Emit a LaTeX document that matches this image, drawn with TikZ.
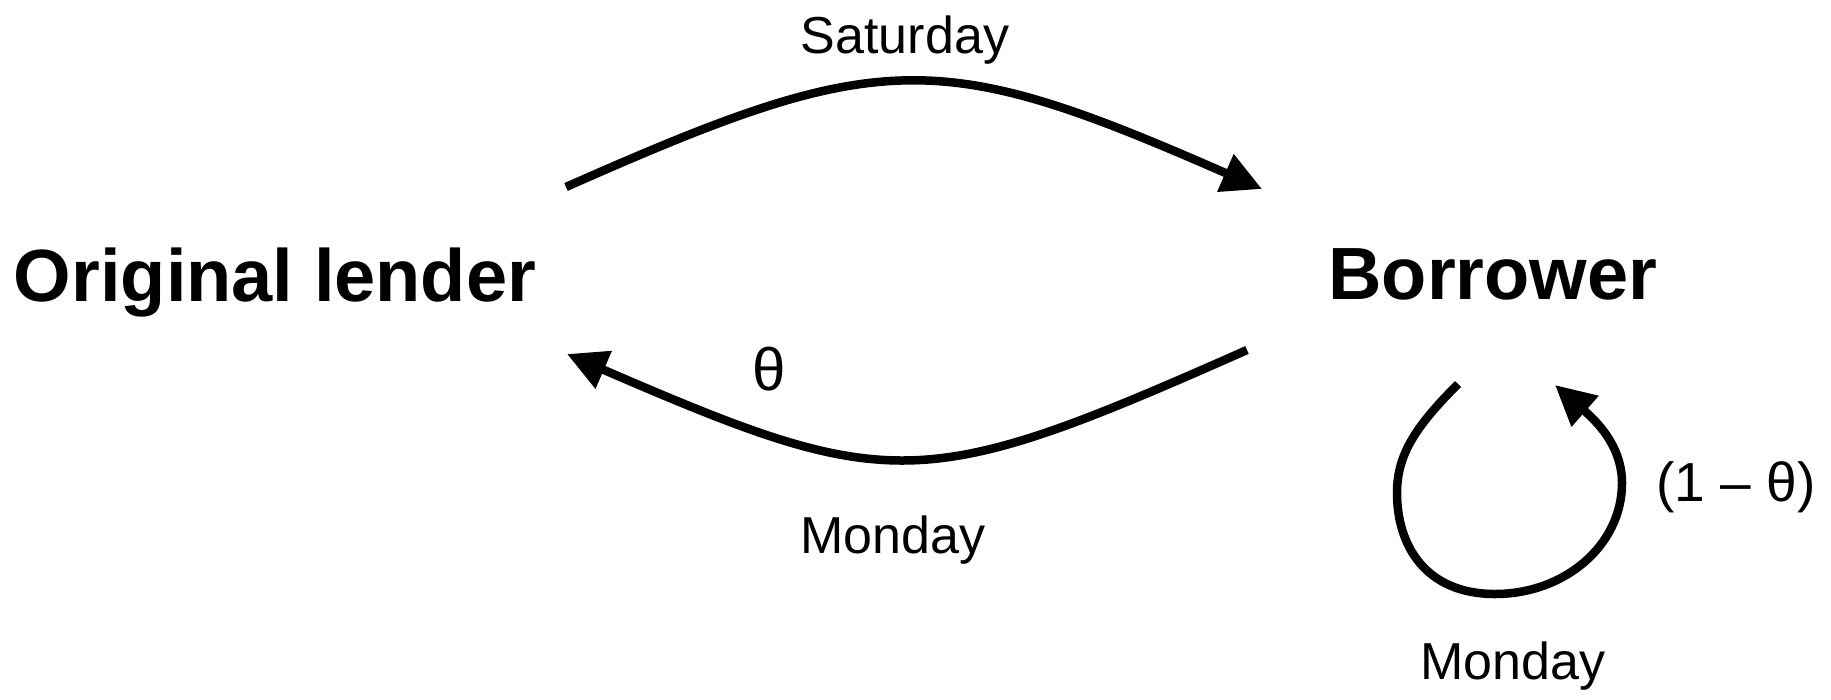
\documentclass[tikz,border=0pt]{standalone}
\usepackage{fontspec}
\setmainfont{Liberation Sans}
\usetikzlibrary{arrows.meta}
\tikzset{
  lbl/.style={inner sep=0pt, anchor=base, font=\fontsize{52}{60}\selectfont},
  biglbl/.style={inner sep=0pt, anchor=base, font=\fontsize{60}{70}\selectfont},
  party/.style={inner sep=0pt, anchor=base, font=\fontsize{74}{84}\selectfont\bfseries},
  flow/.style={line width=8.5pt, -{Triangle[length=40pt,width=39pt]}}
}
\begin{document}
\begin{tikzpicture}[x=1pt,y=-1pt]
\useasboundingbox (0,0) rectangle (1831,699);
\node[party] (lender) at (275,301) {Original lender};
\node[party] (borrower) at (1493,299) {Borrower};
\node[lbl] (sat) at (905,53) {Saturday};
\node[biglbl] (theta) at (769,390) {θ};
\node[lbl] (mon1) at (893,553) {Monday};
\node[lbl] (mon2) at (1513,679) {Monday};
\node[inner sep=0pt, anchor=base, font=\fontsize{55}{64}\selectfont] (omt) at (1736,501) {(1 – θ)};
\coordinate (a1) at (566,187);
\coordinate (a2) at (1262,189);
\coordinate (b1) at (1247,350);
\coordinate (b2) at (567,354);
\coordinate (c1) at (1458,384);
\coordinate (cL) at (1397,493);
\coordinate (cB) at (1495,594);
\coordinate (cR) at (1622,483);
\coordinate (c2) at (1555,385);
\draw[flow] (a1) .. controls (882,47) and (938,47) .. (a2);
\draw[flow] (b1) .. controls (922,494) and (891,494) .. (b2);
\draw[flow] (c1) .. controls (1415,427) and (1397,455) .. (cL)
  .. controls (1397,545) and (1425,594) .. (cB)
  .. controls (1565,594) and (1622,545) .. (cR)
  .. controls (1622,445) and (1595,420) .. (c2);
\end{tikzpicture}
\end{document}
